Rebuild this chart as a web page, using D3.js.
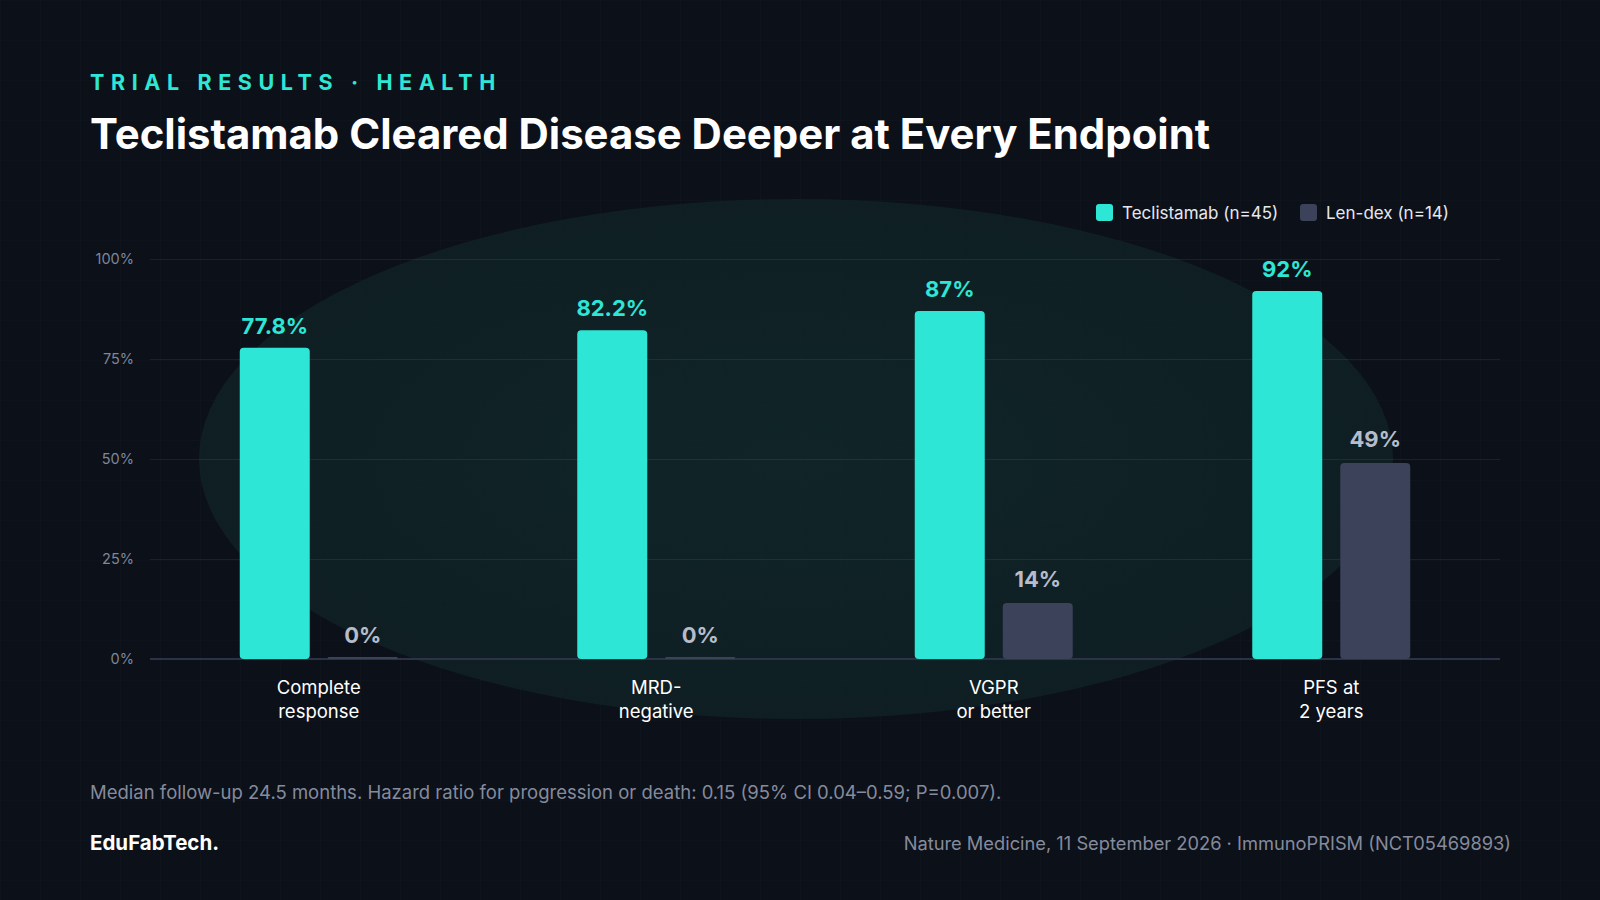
<!DOCTYPE html>
<html><head><meta charset="utf-8">
<script src="https://cdn.jsdelivr.net/npm/d3@7"></script>
<style>
body{margin:0;background:#0c1019;font-family:Inter,"Noto Sans",sans-serif;}
</style></head><body>
<svg id="chart" width="1600" height="900"></svg>
<script>
// Data
const categories = [["Complete", "response"], ["MRD-", "negative"], ["VGPR", "or better"], ["PFS at", "2 years"]];
const teclistamab = [77.8, 82.2, 87, 92];
const lenDex = [0, 0, 14, 49];
const labelsT = ["77.8%", "82.2%", "87%", "92%"];
const labelsL = ["0%", "0%", "14%", "49%"];
const yTicks = [0, 25, 50, 75, 100];

const svg = d3.select("#chart");

// background grid
const defs = svg.append("defs");
const pat = defs.append("pattern").attr("id", "grid").attr("width", 40).attr("height", 40)
  .attr("patternUnits", "userSpaceOnUse");
pat.append("path").attr("d", "M40 0H0V40").attr("fill", "none")
  .attr("stroke", "#ffffff").attr("stroke-opacity", 0.025);
const grad = defs.append("radialGradient").attr("id", "glow");
grad.append("stop").attr("offset", "0%").attr("stop-color", "#112a2c");
grad.append("stop").attr("offset", "100%").attr("stop-color", "#0f2225");
svg.append("rect").attr("width", 1600).attr("height", 900).attr("fill", "#0c1019");
svg.append("rect").attr("width", 1600).attr("height", 900).attr("fill", "url(#grid)");
svg.append("ellipse").attr("cx", 796).attr("cy", 459).attr("rx", 597).attr("ry", 260)
  .attr("fill", "url(#glow)").attr("opacity", 0.8);

// Header
svg.append("text").attr("x", 90).attr("y", 90).text("TRIAL RESULTS · HEALTH")
  .attr("fill", "#2ee6d6").attr("font-size", 21.5).attr("font-weight", 700).attr("letter-spacing", 6.6);
svg.append("text").attr("x", 90).attr("y", 149).text("Teclistamab Cleared Disease Deeper at Every Endpoint")
  .attr("fill", "#ffffff").attr("font-size", 41.9).attr("font-weight", 700);

// Scales
const x = d3.scaleBand().domain(d3.range(categories.length)).range([150, 1500]);
const y = d3.scaleLinear().domain([0, 100]).range([659, 259]);
const bw = 70, off = 44;

// Grid lines + y axis labels
const yAxis = svg.append("g").attr("transform", "translate(150,0)")
  .call(d3.axisLeft(y).tickValues(yTicks).tickFormat(d => d + "%").tickSize(-1350).tickPadding(16));
yAxis.select(".domain").remove();
yAxis.selectAll("line").attr("stroke", "#ffffff").attr("stroke-opacity", 0.07);
yAxis.selectAll("text").attr("fill", "#7f8699").attr("font-size", 14.5).attr("font-family", "Inter");
svg.append("line").attr("x1", 150).attr("x2", 1500).attr("y1", y(0)).attr("y2", y(0))
  .attr("stroke", "#2c3247").attr("stroke-width", 2);

// Bars
const g = svg.append("g");
g.selectAll(".t").data(teclistamab).join("rect")
  .attr("x", (d, i) => x(i) + x.bandwidth() / 2 - off - bw / 2).attr("width", bw)
  .attr("y", d => y(d)).attr("height", d => y(0) - y(d)).attr("rx", 4).attr("fill", "#2ee6d6");
g.selectAll(".l").data(lenDex).join("rect")
  .attr("x", (d, i) => x(i) + x.bandwidth() / 2 + off - bw / 2).attr("width", bw)
  .attr("y", d => y(d) - (d === 0 ? 2 : 0)).attr("height", d => Math.max(2, y(0) - y(d))).attr("rx", d => d ? 4 : 1)
  .attr("fill", "#3b4259");
g.selectAll(".tl").data(teclistamab).join("text")
  .attr("x", (d, i) => x(i) + x.bandwidth() / 2 - off).attr("y", d => y(d) - 14)
  .attr("text-anchor", "middle").attr("fill", "#2ee6d6").attr("font-size", 22).attr("font-weight", 700)
  .text((d, i) => labelsT[i]);
g.selectAll(".ll").data(lenDex).join("text")
  .attr("x", (d, i) => x(i) + x.bandwidth() / 2 + off).attr("y", d => y(d) - 16)
  .attr("text-anchor", "middle").attr("fill", "#b7bccb").attr("font-size", 22).attr("font-weight", 700)
  .text((d, i) => labelsL[i]);

// Category labels
categories.forEach((c, i) => {
  const t = svg.append("text").attr("x", x(i) + x.bandwidth() / 2).attr("y", 694)
    .attr("text-anchor", "middle").attr("fill", "#ffffff").attr("font-size", 18.5);
  c.forEach((line, j) => t.append("tspan").attr("x", x(i) + x.bandwidth() / 2).attr("dy", j ? 24 : 0).text(line));
});

// Legend
const legend = [["Teclistamab (n=45)", "#2ee6d6", 1096], ["Len-dex (n=14)", "#3b4259", 1300]];
legend.forEach(([name, col, lx]) => {
  svg.append("rect").attr("x", lx).attr("y", 204).attr("width", 17).attr("height", 17).attr("rx", 3).attr("fill", col);
  svg.append("text").attr("x", lx + 26).attr("y", 219).text(name).attr("fill", "#e6e8ef").attr("font-size", 17);
});

// Footer
svg.append("text").attr("x", 90).attr("y", 799)
  .text("Median follow-up 24.5 months. Hazard ratio for progression or death: 0.15 (95% CI 0.04–0.59; P=0.007).")
  .attr("fill", "#858b9c").attr("font-size", 18.5);
svg.append("text").attr("x", 90).attr("y", 850).text("EduFabTech.")
  .attr("fill", "#ffffff").attr("font-size", 20.5).attr("font-weight", 700);
svg.append("text").attr("x", 1511).attr("y", 850).attr("text-anchor", "end")
  .text("Nature Medicine, 11 September 2026 · ImmunoPRISM (NCT05469893)")
  .attr("fill", "#858b9c").attr("font-size", 18.3);
</script>
</body></html>
